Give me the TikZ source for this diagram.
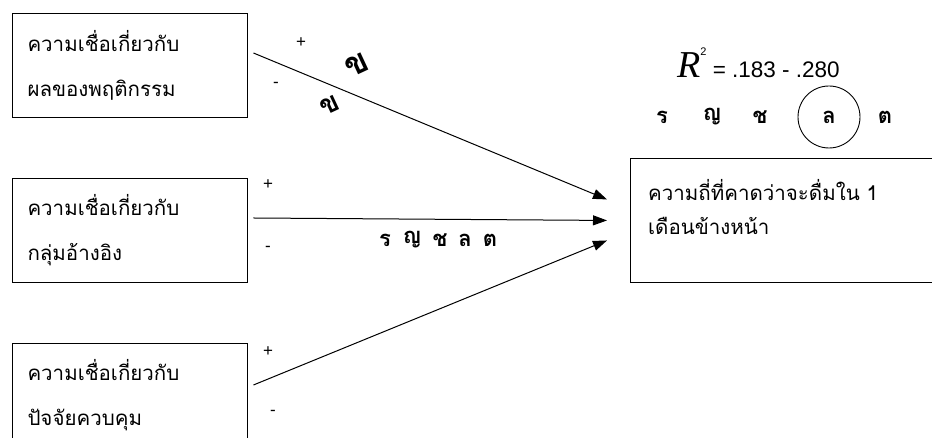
\documentclass[tikz,border=0pt]{standalone}
\usepackage{fontspec}
\newfontfamily\thaifont[Script=Thai]{Loma}
\newfontfamily\arialfont{Liberation Sans}
\newfontfamily\timesfont{Liberation Serif}
\usetikzlibrary{arrows.meta,calc,positioning}
\tikzset{
  varbox/.style   = {draw, line width=0.9pt, minimum width=235pt, minimum height=104pt,
                     text width=204pt, align=left, inner sep=0pt,
                     font=\thaifont\fontsize{20.5}{45}\selectfont},
  outbox/.style   = {draw, line width=0.9pt, anchor=north west, inner sep=0pt,
                     minimum width=330pt, minimum height=124pt},
  boxtext/.style  = {anchor=north west, align=left, inner sep=0pt,
                     font=\thaifont\fontsize{20.5}{34}\selectfont},
  path arrow/.style = {-{Triangle[length=14pt,width=10pt]}, line width=1pt},
  sign/.style     = {font=\arialfont\fontsize{17}{17}\selectfont, inner sep=0pt},
  garble/.style   = {font=\thaifont\bfseries\fontsize{22}{22}\selectfont, inner sep=0pt},
}

\begin{document}
\begin{tikzpicture}[x=1pt,y=1pt]
  \useasboundingbox (0,0) rectangle (932,438);
  % predictors
  \node[varbox] (outcome) at (129.5,373) {ความเชื่อเกี่ยวกับ\\ผลของพฤติกรรม};
  \node[varbox] (referent) at (129.5,208) {ความเชื่อเกี่ยวกับ\\กลุ่มอ้างอิง};
  \node[varbox] (control) at (129.5,43) {ความเชื่อเกี่ยวกับ\\ปัจจัยควบคุม};
  % criterion
  \node[outbox] (freq) at (630,280) {};
  \node[boxtext] (freqtext) at ($(freq.north west)+(18,-21)$)
       {ความถี่ที่คาดว่าจะดื่มใน 1\\เดือนข้างหน้า};
  % paths
  \coordinate (s1) at ($(outcome.east)+(6,12)$);
  \coordinate (s2) at ($(referent.east)+(6,12)$);
  \coordinate (s3) at ($(control.east)+(6,10)$);
  \coordinate (t1) at ($(freq.west)+(-23,21)$);
  \coordinate (t2) at ($(freq.west)+(-23,0)$);
  \coordinate (t3) at ($(freq.west)+(-23,-20)$);
  \draw[path arrow] (s1) -- (t1);
  \draw[path arrow] (s2) -- (t2);
  \draw[path arrow] (s3) -- (t3);
  % signs
  \node[sign] (p1) at (301,395) {+};
  \node[sign] (m1) at (276,353) {-};
  \node[sign] (p2) at (268,253) {+};
  \node[sign] (m2) at (268,189) {-};
  \node[sign] (p3) at (268,86) {+};
  \node[sign] (m3) at (273,25) {-};
  % marks on the upper path
  \node[garble, font=\thaifont\bfseries\fontsize{34}{34}\selectfont, rotate=25] (g1) at (357,373) {ข};
  \node[garble, font=\thaifont\bfseries\fontsize{28}{28}\selectfont, rotate=25] (g2) at (330,333) {ข};
  % marks on the middle path
  \node[garble] (c1) at (385,198) {ร};
  \node[garble] (c2) at (412,198) {ญ};
  \node[garble] (c3) at (440,198) {ช};
  \node[garble] (c4) at (465,198) {ล};
  \node[garble] (c5) at (490,198) {ต};
  % explained variance
  \node[anchor=base west, inner sep=0pt] (rsq) at (677,360)
       {{\timesfont\itshape\fontsize{38}{38}\selectfont R}\raisebox{22pt}{\arialfont\fontsize{11}{11}\selectfont 2}%
        {\arialfont\fontsize{22.5}{22.5}\selectfont\ = .183 - .280}};
  \node[garble] (r1) at (662,321) {ร};
  \node[garble] (r2) at (712,321) {ญ};
  \node[garble] (r3) at (760,321) {ช};
  \node[garble] (r4) at (829,321) {ล};
  \node[garble] (r5) at (885,321) {ต};
  \draw[line width=0.9pt] (r4) circle (31pt);
\end{tikzpicture}
\end{document}
